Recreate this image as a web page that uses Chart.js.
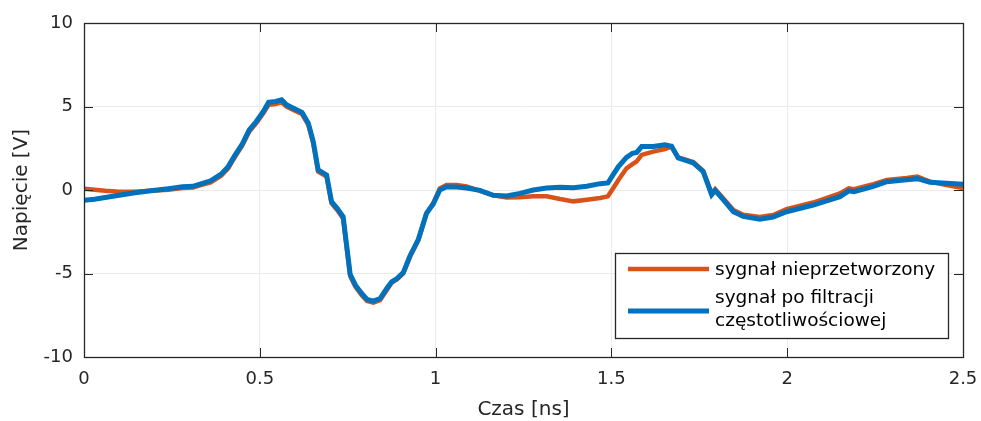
<!DOCTYPE html>
<html>
<head>
<meta charset="utf-8">
<script src="https://cdn.jsdelivr.net/npm/chart.js@4.4.1/dist/chart.umd.min.js"></script>
<style>
  html, body { margin: 0; padding: 0; background: #ffffff; }
  #wrap { width: 981px; height: 421px; }
</style>
</head>
<body>
<div id="wrap"><canvas id="c" width="981" height="421"></canvas></div>
<script>
// Time axis [ns]
const czas = [
  0.00, 0.03, 0.06, 0.10, 0.14, 0.19, 0.24, 0.28, 0.31, 0.33,
  0.36, 0.39, 0.41, 0.43, 0.45, 0.47, 0.49, 0.51, 0.525, 0.545,
  0.562, 0.576, 0.60, 0.62, 0.638, 0.652, 0.666, 0.69, 0.704, 0.72,
  0.737, 0.757, 0.772, 0.79, 0.805, 0.823, 0.842, 0.861, 0.875, 0.89,
  0.908, 0.927, 0.951, 0.974, 0.993, 1.012, 1.031, 1.06, 1.088, 1.126,
  1.164, 1.202, 1.24, 1.278, 1.316, 1.354, 1.392, 1.43, 1.468, 1.49,
  1.505, 1.52, 1.543, 1.56, 1.572, 1.586, 1.619, 1.652, 1.671, 1.69,
  1.733, 1.761, 1.785, 1.795, 1.818, 1.847, 1.875, 1.922, 1.96, 1.998,
  2.074, 2.15, 2.175, 2.19, 2.245, 2.283, 2.34, 2.37, 2.406, 2.453,
  2.5
];

// Raw signal [V]
const surowy = [
  0.08, 0.02, -0.05, -0.10, -0.10, -0.05, 0.02, 0.12, 0.15, 0.28,
  0.45, 0.85, 1.30, 2.00, 2.65, 3.50, 4.00, 4.60, 5.10, 5.15,
  5.25, 5.00, 4.75, 4.55, 3.90, 2.80, 1.10, 0.80, -0.80, -1.20,
  -1.70, -5.15, -5.80, -6.30, -6.65, -6.75, -6.60, -6.00, -5.55, -5.35,
  -5.00, -4.00, -3.00, -1.40, -0.80, 0.10, 0.30, 0.30, 0.22, -0.05,
  -0.32, -0.45, -0.44, -0.38, -0.38, -0.54, -0.68, -0.58, -0.48, -0.38,
  0.10, 0.60, 1.30, 1.55, 1.72, 2.10, 2.30, 2.45, 2.60, 1.95,
  1.68, 1.15, -0.20, 0.05, -0.50, -1.20, -1.48, -1.62, -1.50, -1.15,
  -0.75, -0.20, 0.10, 0.05, 0.35, 0.60, 0.72, 0.80, 0.50, 0.30,
  0.12
];

// Frequency-filtered signal [V]
const filtrowany = [
  -0.62, -0.55, -0.45, -0.32, -0.18, -0.05, 0.08, 0.20, 0.22, 0.35,
  0.55, 0.95, 1.40, 2.10, 2.75, 3.60, 4.10, 4.70, 5.25, 5.30,
  5.40, 5.10, 4.85, 4.65, 4.00, 2.90, 1.20, 0.90, -0.70, -1.10,
  -1.60, -5.05, -5.70, -6.20, -6.55, -6.65, -6.50, -5.90, -5.50, -5.30,
  -4.95, -3.95, -2.95, -1.40, -0.85, 0.00, 0.20, 0.18, 0.12, -0.02,
  -0.32, -0.36, -0.20, 0.00, 0.12, 0.16, 0.14, 0.22, 0.38, 0.42,
  0.92, 1.40, 1.95, 2.20, 2.25, 2.60, 2.60, 2.70, 2.62, 1.92,
  1.62, 1.10, -0.28, -0.02, -0.58, -1.30, -1.58, -1.75, -1.62, -1.30,
  -0.90, -0.40, -0.05, -0.10, 0.22, 0.50, 0.62, 0.68, 0.46, 0.40,
  0.34
];

const xTicks = [0, 0.5, 1, 1.5, 2, 2.5];
const yTicks = [-10, -5, 0, 5, 10];

const serie = ['sygnał nieprzetworzony', ['sygnał po filtracji', 'częstotliwościowej']];
const kolory = ['#D95319', '#0072BD'];

const toPoints = (ys) => czas.map((t, i) => ({ x: t, y: ys[i] }));

const FONT = '"DejaVu Sans", Verdana, sans-serif';
const AXIS = '#262626';

// Inward tick marks on all four sides plus the box round the plot
const boxPlugin = {
  id: 'matlabBox',
  afterDraw(chart) {
    const { ctx, chartArea: a, scales } = chart;
    const L = 9;
    ctx.save();
    ctx.strokeStyle = AXIS;
    ctx.lineWidth = 1;
    ctx.beginPath();
    xTicks.forEach(v => {
      const x = Math.round(scales.x.getPixelForValue(v)) + 0.5;
      ctx.moveTo(x, a.bottom); ctx.lineTo(x, a.bottom - L);
      ctx.moveTo(x, a.top); ctx.lineTo(x, a.top + L);
    });
    yTicks.forEach(v => {
      const y = Math.round(scales.y.getPixelForValue(v)) + 0.5;
      ctx.moveTo(a.left, y); ctx.lineTo(a.left + L, y);
      ctx.moveTo(a.right, y); ctx.lineTo(a.right - L, y);
    });
    ctx.stroke();
    ctx.lineWidth = 1.3;
    ctx.strokeRect(Math.round(a.left) + 0.5, Math.round(a.top) + 0.5,
                   Math.round(a.right - a.left), Math.round(a.bottom - a.top));
    ctx.restore();
  }
};

// Legend box with a two-line entry
const legendPlugin = {
  id: 'boxLegend',
  afterDraw(chart) {
    const { ctx } = chart;
    const bx = 615, by = 253, bw = 333, bh = 85;
    ctx.save();
    ctx.fillStyle = '#ffffff';
    ctx.fillRect(bx, by, bw, bh);
    ctx.strokeStyle = AXIS;
    ctx.lineWidth = 1.3;
    ctx.strokeRect(bx + 0.5, by + 0.5, bw, bh);
    ctx.font = '18.5px ' + FONT;
    ctx.textBaseline = 'middle';
    ctx.textAlign = 'left';
    const rows = [
      { lineY: 269, texts: [[serie[0], 270]] },
      { lineY: 311, texts: [[serie[1][0], 298], [serie[1][1], 321]] }
    ];
    chart.data.datasets.forEach((ds, i) => {
      const r = rows[i];
      ctx.strokeStyle = ds.borderColor;
      ctx.lineWidth = ds.borderWidth;
      ctx.beginPath();
      ctx.moveTo(628, r.lineY);
      ctx.lineTo(709, r.lineY);
      ctx.stroke();
      ctx.fillStyle = '#000000';
      r.texts.forEach(([t, y]) => ctx.fillText(t, 715, y));
    });
    ctx.restore();
  }
};

new Chart(document.getElementById('c'), {
  type: 'line',
  data: {
    datasets: [
      {
        label: serie[0],
        data: toPoints(surowy),
        borderColor: kolory[0],
        borderWidth: 4.5,
        pointRadius: 0,
        tension: 0,
        order: 2
      },
      {
        label: serie[1].join(' '),
        data: toPoints(filtrowany),
        borderColor: kolory[1],
        borderWidth: 5,
        pointRadius: 0,
        tension: 0,
        order: 1
      }
    ]
  },
  options: {
    responsive: false,
    animation: false,
    layout: { padding: { top: 23, right: 18, left: 0, bottom: 0 } },
    plugins: { legend: { display: false }, tooltip: { enabled: false } },
    scales: {
      x: {
        type: 'linear',
        min: 0, max: 2.5,
        afterBuildTicks: (s) => { s.ticks = xTicks.map(v => ({ value: v })); },
        afterFit: (s) => { s.height = 64; s.paddingLeft = 0; s.paddingRight = 0; },
        ticks: {
          font: { family: FONT, size: 18 },
          color: AXIS,
          padding: 12,
          maxRotation: 0,
          callback: (v) => String(v)
        },
        grid: { color: '#ebebeb', lineWidth: 1, drawTicks: false },
        border: { display: false },
        title: {
          display: true,
          text: 'Czas [ns]',
          font: { family: FONT, size: 20 },
          color: AXIS,
          padding: { top: 0, bottom: -1 }
        }
      },
      y: {
        type: 'linear',
        min: -10, max: 10,
        afterBuildTicks: (s) => { s.ticks = yTicks.map(v => ({ value: v })); },
        afterFit: (s) => { s.width = 84; s.paddingTop = 0; s.paddingBottom = 0; },
        ticks: {
          font: { family: FONT, size: 18 },
          color: AXIS,
          padding: 11,
          callback: (v) => String(v)
        },
        grid: { color: '#ebebeb', lineWidth: 1, drawTicks: false },
        border: { display: false },
        title: {
          display: true,
          text: 'Napięcie [V]',
          font: { family: FONT, size: 20 },
          color: AXIS,
          padding: { top: 10, bottom: 0 }
        }
      }
    }
  },
  plugins: [boxPlugin, legendPlugin]
});
</script>
</body>
</html>
